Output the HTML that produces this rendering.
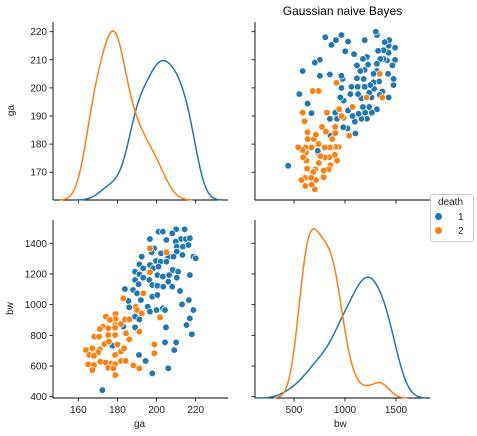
<!DOCTYPE html>
<html><head><meta charset="utf-8"><style>
body{margin:0;background:#fff;}
svg{display:block;font-family:"Liberation Sans","DejaVu Sans",sans-serif;}
</style></head><body>
<svg id="c" width="477" height="436" viewBox="0 0 477 436"></svg>
<script>
const gaBlue=[172.3,197.8,206,191,194.4,204.3,210,209,204.8,213,216.5,215.3,217,218,218.8,217,218.8,220,201,203.2,210,214.3,208,196.6,205,212.5,215,217,209.8,210.3,213.4,216.3,198.7,197.5,210.3,213.2,192.4,202.3,206,208.6,191.2,199.7,202,196.6,205,193.2,198.3,201,189,191.2,200.4,203.2,206.4,208.3,211,193.2,196.3,206,210.3,189,190.8,197.8,200.4,203.4,208,212,188,190,183.8,197.8,200.4,192,185.6,186,195.5,196.6,200,203.2,204.3,189,191.2,183,189,177,177.6];
const bwBlue=[443,552,585,672,633,754,754,704,852,1002,1030,867,911,807,965,1193,1313,1302,1476,1476,1491,1491,1465,1428,1422,1428,1428,1433,1411,1378,1378,1389,1367,1341,1346,1324,1313,1335,1313,1313,1263,1285,1280,1259,1280,1237,1237,1248,1215,1198,1193,1183,1193,1226,1215,1176,1161,1150,1176,1161,1133,1128,1124,1117,1117,1089,1096,1074,1102,1052,1063,1030,1024,983,987,954,965,976,965,922,904,857,852,737,733];
const gaOrange=[196.6,205,196.6,183,193.2,189.3,190,192.4,201.8,174.1,179,179,176.2,172.5,178.8,181.8,183.9,186.1,171,175.3,178.8,168.2,170.6,175.3,178.8,184.4,191.2,173.3,175.7,180,186.1,163.9,167.2,171,170.1,165.6,168,178.8,181.8,183.4,198.9,198.9,165.1,168,171.3,174.1,177,178.8,181.8,184.2,167.2,175.3,177.9,188.1,191.2,178.9];
const bwOrange=[1367,1341,1211,1041,1074,987,965,943,917,922,939,907,900,857,867,874,904,904,841,846,850,791,791,802,802,813,824,743,759,741,774,704,715,709,689,672,667,672,694,715,741,683,611,606,628,622,617,613,633,633,574,589,585,604,585,541];
const gaTicks=[160,180,200,220];
const gaYTicks=[170,180,190,200,210,220];
const bwYTicks=[400,600,800,1000,1200,1400];
const bwXTicks=[500,1000,1500];

const NS="http://www.w3.org/2000/svg";
const svg=document.getElementById('c');
function el(t,a,p){const e=document.createElementNS(NS,t);for(const k in a)e.setAttribute(k,a[k]);(p||svg).appendChild(e);return e;}
const BLUE="#1f77b4",ORANGE="#ff7f0e";
const gaX=v=>78.3+(v-160)*1.957;
const bwY=v=>243.3+(1400-v)*0.1534;
const bwX=v=>294+(v-500)*0.102;
const gaY=v=>31.7+(220-v)*2.81;
const P={TL:[53,22,228,200],TR:[255,22,430,200],BL:[53,220,228,398],BR:[255,220,430,398]};

function axes(name,b){
  const g=el('g',{});
  
  
  el('line',{x1:b[0],y1:b[1],x2:b[0],y2:b[3],stroke:'#000','stroke-width':0.9},g);
  el('line',{x1:b[0],y1:b[3],x2:b[2],y2:b[3],stroke:'#000','stroke-width':0.9},g);
  return g;
}
function xticks(g,ticks,f,b,labels){
  ticks.forEach(t=>{const x=f(t);el('line',{x1:x,y1:b[3],x2:x,y2:b[3]+3.5,stroke:'#000','stroke-width':0.8},g);
    if(labels){const tx=el('text',{x:x,y:b[3]+15,'font-size':10,'text-anchor':'middle',fill:'#222'},g);tx.textContent=t;
      
      }});
}
function yticks(g,ticks,f,b,labels){
  ticks.forEach(t=>{const y=f(t);el('line',{x1:b[0],y1:y,x2:b[0]-3.5,y2:y,stroke:'#000','stroke-width':0.8},g);
    if(labels){const tx=el('text',{x:b[0]-6,y:y+3.5,'font-size':10,'text-anchor':'end',fill:'#222'},g);tx.textContent=t;
      
      }});
}
function scatter(name,xs,ys,fx,fy,col){
  const g=el('g',{});
  
  
  xs.forEach((v,i)=>{const c=el('circle',{cx:fx(v),cy:fy(ys[i]),r:3.3,fill:col,stroke:'#fff','stroke-width':0.7},g);
    
    });
}
function kdeCurve(data){
  const n=data.length,m=data.reduce((a,b)=>a+b,0)/n;
  const sd=Math.sqrt(data.reduce((a,b)=>a+(b-m)*(b-m),0)/(n-1));
  const h=sd*Math.pow(n,-0.2);
  const lo=Math.min(...data)-3*h,hi=Math.max(...data)+3*h;
  const pts=[];
  for(let i=0;i<=200;i++){const x=lo+(hi-lo)*i/200;let s=0;data.forEach(d=>{const z=(x-d)/h;s+=Math.exp(-0.5*z*z);});
    pts.push([x,s/(n*h*Math.sqrt(2*Math.PI))]);}
  return pts;
}
function diag(name,b,dB,dO,fx){
  const cB=kdeCurve(dB),cO=kdeCurve(dO);
  const mx=Math.max(...cB.map(p=>p[1]),...cO.map(p=>p[1]));
  const H=(b[3]-b[1])*0.95;
  [[cB,BLUE,'blue'],[cO,ORANGE,'orange']].forEach(([c,col,nm])=>{
    const d=c.filter(p=>fx(p[0])>=b[0]&&fx(p[0])<=b[2]).map((p,i)=>(i?'L':'M')+fx(p[0]).toFixed(2)+','+(b[3]-p[1]/mx*H).toFixed(2)).join('');
    const pa=el('path',{d:d,fill:'none',stroke:col,'stroke-width':1.5});
    
    
  });
}
let g=axes('ga-diag',P.TL);xticks(g,gaTicks,gaX,P.TL,false);yticks(g,gaYTicks,gaY,P.TL,true);
diag('ga',P.TL,gaBlue,gaOrange,gaX);
g=axes('bw-vs-ga',P.TR);xticks(g,bwXTicks,bwX,P.TR,false);yticks(g,gaYTicks,gaY,P.TR,false);
scatter('scatter-blue-tr',bwBlue,gaBlue,bwX,gaY,BLUE);
scatter('scatter-orange-tr',bwOrange,gaOrange,bwX,gaY,ORANGE);
g=axes('ga-vs-bw',P.BL);xticks(g,gaTicks,gaX,P.BL,true);yticks(g,bwYTicks,bwY,P.BL,true);
scatter('scatter-blue-bl',gaBlue,bwBlue,gaX,bwY,BLUE);
scatter('scatter-orange-bl',gaOrange,bwOrange,gaX,bwY,ORANGE);
g=axes('bw-diag',P.BR);xticks(g,bwXTicks,bwX,P.BR,true);yticks(g,bwYTicks,bwY,P.BR,false);
diag('bw',P.BR,bwBlue,bwOrange,bwX);
</script>
<div style="position:absolute;left:0;top:0;width:477px;height:436px;pointer-events:none;font-family:'Liberation Sans','DejaVu Sans',sans-serif;">
  <div style="position:absolute;left:255px;width:175px;top:4px;text-align:center;font-size:12px;color:#000;">Gaussian naive Bayes</div>
  <div style="position:absolute;left:6px;top:105px;font-size:10px;color:#222;transform:rotate(-90deg);">ga</div>
  <div style="position:absolute;left:4px;top:303px;font-size:10px;color:#222;transform:rotate(-90deg);">bw</div>
  <div style="position:absolute;left:134px;top:419px;font-size:10px;color:#222;">ga</div>
  <div style="position:absolute;left:334px;top:419px;font-size:10px;color:#222;">bw</div>
  <div style="position:absolute;left:430px;top:194px;width:42px;height:46px;border:1px solid #ccc;border-radius:3px;background:#fff;font-size:10px;color:#222;">
    <div style="position:absolute;left:7px;top:2px;">death</div>
    <div style="position:absolute;left:4px;top:17px;"><span style="display:inline-block;width:7px;height:7px;border-radius:50%;background:#1f77b4;margin-right:16px;"></span>1</div>
    <div style="position:absolute;left:4px;top:31px;"><span style="display:inline-block;width:7px;height:7px;border-radius:50%;background:#ff7f0e;margin-right:16px;"></span>2</div>
  </div>
</div>
</body></html>
